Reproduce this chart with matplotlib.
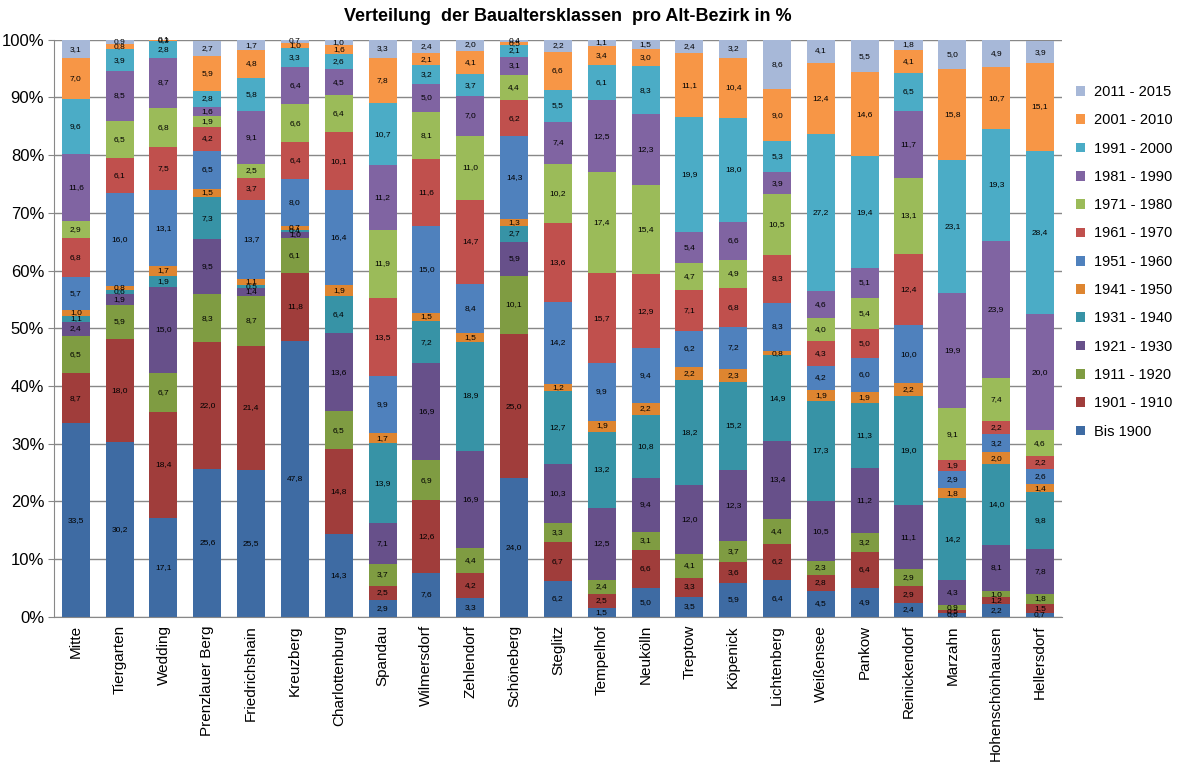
import matplotlib
matplotlib.use("Agg")
import matplotlib.pyplot as plt
import numpy as np
from matplotlib.patches import Patch

plt.rcParams['font.family'] = ['Liberation Sans', 'DejaVu Sans']

districts = ["Mitte", "Tiergarten", "Wedding", "Prenzlauer Berg", "Friedrichshain",
             "Kreuzberg", "Charlottenburg", "Spandau", "Wilmersdorf", "Zehlendorf",
             "Schöneberg", "Steglitz", "Tempelhof", "Neukölln", "Treptow", "Köpenick",
             "Lichtenberg", "Weißensee", "Pankow", "Reinickendorf", "Marzahn",
             "Hohenschönhausen", "Hellersdorf"]

categories = ["Bis 1900", "1901 - 1910", "1911 - 1920", "1921 - 1930", "1931 - 1940",
              "1941 - 1950", "1951 - 1960", "1961 - 1970", "1971 - 1980", "1981 - 1990",
              "1991 - 2000", "2001 - 2010", "2011 - 2015"]

bis_1900  = [33.5, 30.2, 17.1, 25.6, 25.5, 47.8, 14.3, 2.9, 7.6, 3.3, 24.0, 6.2, 1.5, 5.0, 3.5, 5.9, 6.4, 4.5, 4.9, 2.4, 0.6, 2.2, 0.7]
y1901_10  = [8.7, 18.0, 18.4, 22.0, 21.4, 11.8, 14.8, 2.5, 12.6, 4.2, 25.0, 6.7, 2.5, 6.6, 3.3, 3.6, 6.2, 2.8, 6.4, 2.9, 0.5, 1.2, 1.5]
y1911_20  = [6.5, 5.9, 6.7, 8.3, 8.7, 6.1, 6.5, 3.7, 6.9, 4.4, 10.1, 3.3, 2.4, 3.1, 4.1, 3.7, 4.4, 2.3, 3.2, 2.9, 0.9, 1.0, 1.8]
y1921_30  = [2.4, 1.9, 15.0, 9.5, 1.4, 1.0, 13.6, 7.1, 16.9, 16.9, 5.9, 10.3, 12.5, 9.4, 12.0, 12.3, 13.4, 10.5, 11.2, 11.1, 4.3, 8.1, 7.8]
y1931_40  = [1.1, 0.6, 1.9, 7.3, 0.5, 0.4, 6.4, 13.9, 7.2, 18.9, 2.7, 12.7, 13.2, 10.8, 18.2, 15.2, 14.9, 17.3, 11.3, 19.0, 14.2, 14.0, 9.8]
y1941_50  = [1.0, 0.8, 1.7, 1.5, 1.1, 0.7, 1.9, 1.7, 1.5, 1.5, 1.3, 1.2, 1.9, 2.2, 2.2, 2.3, 0.8, 1.9, 1.9, 2.2, 1.8, 2.0, 1.4]
y1951_60  = [5.7, 16.0, 13.1, 6.5, 13.7, 8.0, 16.4, 9.9, 15.0, 8.4, 14.3, 14.2, 9.9, 9.4, 6.2, 7.2, 8.3, 4.2, 6.0, 10.0, 2.9, 3.2, 2.6]
y1961_70  = [6.8, 6.1, 7.5, 4.2, 3.7, 6.4, 10.1, 13.5, 11.6, 14.7, 6.2, 13.6, 15.7, 12.9, 7.1, 6.8, 8.3, 4.3, 5.0, 12.4, 1.9, 2.2, 2.2]
y1971_80  = [2.9, 6.5, 6.8, 1.9, 2.5, 6.6, 6.4, 11.9, 8.1, 11.0, 4.4, 10.2, 17.4, 15.4, 4.7, 4.9, 10.5, 4.0, 5.4, 13.1, 9.1, 7.4, 4.6]
y1981_90  = [11.6, 8.5, 8.7, 1.6, 9.1, 6.4, 4.5, 11.2, 5.0, 7.0, 3.1, 7.4, 12.5, 12.3, 5.4, 6.6, 3.9, 4.6, 5.1, 11.7, 19.9, 23.9, 20.0]
y1991_00  = [9.6, 3.9, 2.8, 2.8, 5.8, 3.3, 2.6, 10.7, 3.2, 3.7, 2.1, 5.5, 6.1, 8.3, 19.9, 18.0, 5.3, 27.2, 19.4, 6.5, 23.1, 19.3, 28.4]
y2001_10  = [7.0, 0.8, 0.3, 5.9, 4.8, 1.0, 1.6, 7.8, 2.1, 4.1, 0.5, 6.6, 3.4, 3.0, 11.1, 10.4, 9.0, 12.4, 14.6, 4.1, 15.8, 10.7, 15.1]
y2011_15  = [3.1, 0.9, 0.1, 2.7, 1.7, 0.7, 1.0, 3.3, 2.4, 2.0, 0.4, 2.2, 1.1, 1.5, 2.4, 3.2, 8.6, 4.1, 5.5, 1.8, 5.0, 4.9, 3.9]

series = [bis_1900, y1901_10, y1911_20, y1921_30, y1931_40, y1941_50, y1951_60,
          y1961_70, y1971_80, y1981_90, y1991_00, y2001_10, y2011_15]

colors = ["#3E6BA3", "#A03D3B", "#7F9C42", "#67508A", "#3793A6", "#DE8530",
          "#4F81BD", "#C0504D", "#9BBB59", "#8064A2", "#4BACC6", "#F79646", "#A7B8D8"]

fig = plt.figure(figsize=(11.98, 7.69), dpi=100)
ax = fig.add_axes([0.045, 0.198, 0.8414, 0.7503])

x = np.arange(len(districts))
bottom = np.zeros(len(districts))
width = 0.64
for vals, col, cat in zip(series, colors, categories):
    v = np.array(vals)
    ax.bar(x, v, width, bottom=bottom, color=col, label=cat, zorder=2)
    for xi, b, h in zip(x, bottom, v):
        ax.text(xi, b + h / 2, f"{h:.1f}".replace(".", ","), ha="center", va="center",
                fontsize=6, color="black", zorder=3)
    bottom = bottom + v

ax.set_xlim(-0.5, len(districts) - 0.5)
ax.set_ylim(0, 100)
ax.set_yticks(np.arange(0, 101, 10))
ax.set_yticklabels([f"{t}%" for t in range(0, 101, 10)], fontsize=12)
ax.set_xticks(x)
ax.set_xticklabels(districts, rotation=90, fontsize=11)
ax.tick_params(axis="x", length=0, pad=6)
ax.tick_params(axis="y", length=4, color="#888888", pad=3)
ax.yaxis.grid(True, color="#888888", linewidth=1, zorder=0)
ax.set_axisbelow(True)
for s in ["top", "right"]:
    ax.spines[s].set_visible(False)
ax.spines["left"].set_color("#888888")
ax.spines["bottom"].set_color("#888888")

fig.text(0.474, 0.979, "Verteilung  der Baualtersklassen  pro Alt-Bezirk in %",
         ha="center", va="center", fontsize=13, fontweight="bold")

handles = [Patch(facecolor=c, label=l) for c, l in zip(colors, categories)][::-1]
fig.legend(handles=handles, loc="upper left", bbox_to_anchor=(0.893, 0.897),
           frameon=False, fontsize=10.5, handlelength=0.65, handleheight=0.65,
           labelspacing=0.98, handletextpad=0.6, borderaxespad=0)

fig.savefig("out.png", dpi=100)
